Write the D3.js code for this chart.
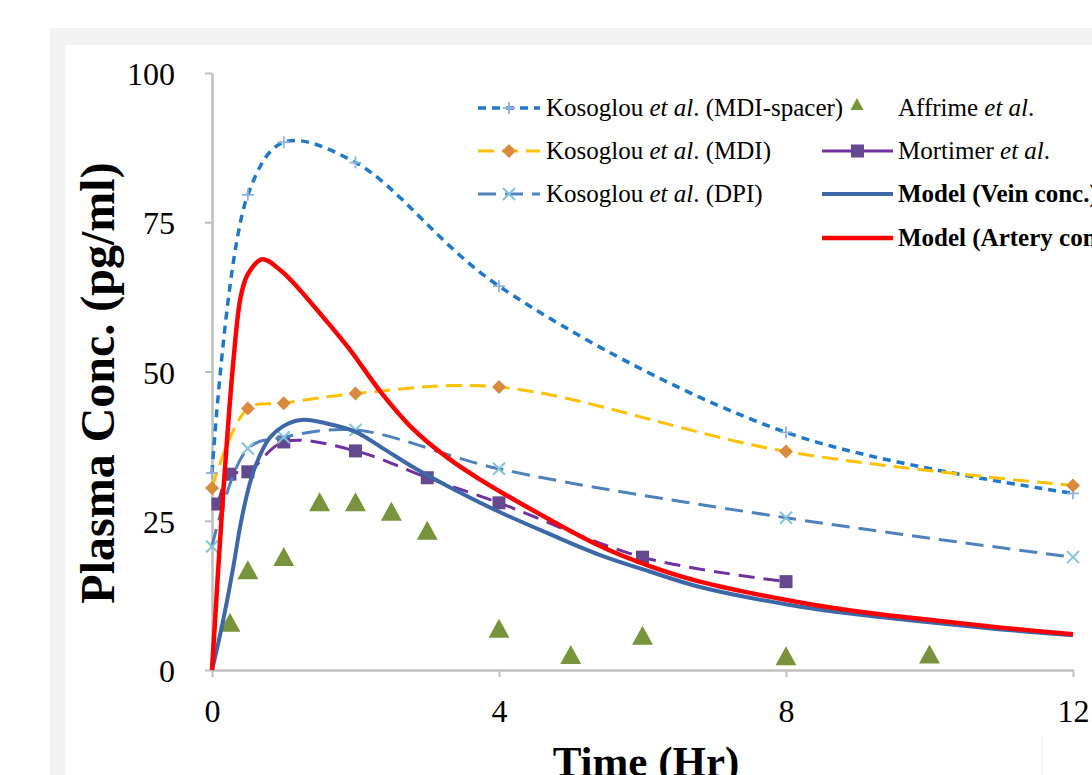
<!DOCTYPE html>
<html>
<head>
<meta charset="utf-8">
<script src="https://cdn.jsdelivr.net/npm/d3@7"></script>
<style>
  body { margin: 0; background: #ffffff; }
  svg { display: block; font-family: "Liberation Serif", "Times New Roman", serif; }
</style>
</head>
<body>
<svg></svg>
<script>
// sampling times of the Kosoglou studies (hr)
let kosoglouTimes = [0, 0.5, 1, 2, 4, 8, 12]
let spacerValues = [33, 79.6, 88.4, 85, 64.3, 39.8, 29.6]   // MDI-spacer
let mdiValues = [30.5, 43.8, 44.7, 46.3, 47.4, 36.6, 30.9]     // MDI
let dpiValues = [20.7, 37.1, 39, 40.2, 33.7, 25.5, 18.9]       // DPI

let mortimerTimes = [0.083, 0.25, 0.5, 1, 2, 3, 4, 6, 8]
let mortimerValues = [27.8, 32.8, 33.2, 38.2, 36.7, 32.2, 28, 18.9, 14.8]

let affrimeTimes = [0.25, 0.5, 1, 1.5, 2, 2.5, 3, 4, 5, 6, 8, 10]
let affrimeValues = [8, 16.8, 19, 28.2, 28.2, 26.6, 23.4, 7, 2.6, 5.8, 2.4, 2.7]

// model curves
let veinTimes = [0, 0.1, 0.2, 0.3, 0.4, 0.5, 0.6, 0.8, 1.05, 1.27, 1.6, 2, 2.4, 2.8, 3.3, 4, 4.7, 5.4, 6.1, 6.8, 8.2, 9, 10, 11, 12]
let veinValues = [0, 5.2, 11, 17.5, 24.5, 30, 34, 38.8, 41.2, 41.9, 41.3, 39.9, 37, 34, 30.7, 26.5, 22.8, 19.3, 16.5, 13.9, 10.6, 9.3, 8, 6.8, 5.8]
let arteryTimes = [0, 0.15, 0.3, 0.4, 0.5, 0.7, 0.95, 1.2, 1.45, 1.9, 2.35, 2.8, 3.3, 3.75, 4.2, 5.4, 6.1, 6.8, 8.2, 9, 10, 11, 12]
let arteryValues = [0, 28.5, 52, 62.5, 66.3, 68.8, 67, 64, 60.5, 54, 46.6, 40.4, 35.4, 31.8, 28.6, 20.8, 17.4, 14.8, 11.3, 9.8, 8.4, 7.1, 6]

let xTicks = [0, 4, 8, 12]
let yTicks = [0, 25, 50, 75, 100]

let width = 1092
let height = 775

let svg = d3.select('svg')
svg.attr('width', width).attr('height', height)

// grey frame + white panel behind the chart
svg.append('rect').attr('x', 50).attr('y', 28).attr('width', width).attr('height', height).attr('fill', '#f2f2f2')
svg.append('rect').attr('x', 65).attr('y', 45).attr('width', width).attr('height', height).attr('fill', '#ffffff')
svg.append('line').attr('x1', 1042).attr('x2', 1042).attr('y1', 737).attr('y2', height)
    .attr('stroke', '#e6e6e6').attr('stroke-width', 1)

let xScale = d3.scaleLinear().domain([0, 12]).range([212, 1073])
let yScale = d3.scaleLinear().domain([0, 100]).range([670, 73])

// axes
let yAxis = d3.axisLeft(yScale).tickValues(yTicks).tickSize(7).tickSizeOuter(0).tickPadding(30)
let yG = svg.append('g').attr('transform', 'translate(212, 0)').call(yAxis)
let xAxis = d3.axisBottom(xScale).tickValues(xTicks).tickSize(7).tickSizeOuter(0).tickPadding(22)
let xG = svg.append('g').attr('transform', 'translate(0, 670)').call(xAxis)

;[xG, yG].forEach((g) => {
    g.select('.domain').attr('stroke', '#bfbfbf').attr('stroke-width', 2.5)
    g.selectAll('.tick line').attr('stroke', '#bfbfbf').attr('stroke-width', 2)
    g.selectAll('.tick text')
        .attr('font-family', '"Liberation Serif", serif')
        .attr('font-size', 32)
        .attr('fill', '#000')
})
yG.selectAll('.tick text').attr('dy', '0.36em')

// axis titles
svg.append('text')
    .attr('transform', 'translate(114, 383) rotate(-90)')
    .attr('text-anchor', 'middle')
    .attr('font-size', 48)
    .attr('font-weight', 'bold')
    .text('Plasma Conc. (pg/ml)')

svg.append('text')
    .attr('x', 646)
    .attr('y', 776)
    .attr('text-anchor', 'middle')
    .attr('font-size', 43)
    .attr('font-weight', 'bold')
    .text('Time (Hr)')

// marker shapes
let plusPath = (r) => `M${-r},0H${r}M0,${-r}V${r}`
let xPath = (r) => `M${-r},${-r}L${r},${r}M${-r},${r}L${r},${-r}`
let diamondPath = (r) => `M0,${-r}L${r},0L0,${r}L${-r},0Z`
let squarePath = (r) => `M${-r},${-r}H${r}V${r}H${-r}Z`
let trianglePath = (r) => `M0,${-r}L${r * 1.1},${r}L${-r * 1.1},${r}Z`

let zip = (ts, vs) => ts.map((t, i) => [t, vs[i]])

let series = [
    { name: 'spacer', pts: zip(kosoglouTimes, spacerValues), line: '#1f78c8', width: 3.5, dash: '8,6',
      marker: plusPath, r: 6, fill: 'none', stroke: '#8fb3df', mw: 1.8 },
    { name: 'affrime', pts: zip(affrimeTimes, affrimeValues), line: null,
      marker: trianglePath, r: 9.5, fill: '#77933c', stroke: 'none' },
    { name: 'mdi', pts: zip(kosoglouTimes, mdiValues), line: '#ffc000', width: 3, dash: '16,8',
      marker: diamondPath, r: 7, fill: '#d98a3c', stroke: 'none' },
    { name: 'mortimer', pts: zip(mortimerTimes, mortimerValues), line: '#7030a0', width: 3, dash: '16,9',
      marker: squarePath, r: 6.5, fill: '#64498f', stroke: 'none' },
    { name: 'dpi', pts: zip(kosoglouTimes, dpiValues), line: '#4f81bd', width: 3, dash: '18,9',
      marker: xPath, r: 6, fill: 'none', stroke: '#80c4d6', mw: 2 },
]

// smoothed lines like the spreadsheet's "smoothed line" option
let smoothLine = d3.line()
    .x((d) => xScale(d[0]))
    .y((d) => yScale(d[1]))
    .curve(d3.curveCatmullRom.alpha(0.5))

series.forEach((s) => {
    if (s.line) {
        svg.append('path')
            .datum(s.pts)
            .attr('d', smoothLine)
            .attr('fill', 'none')
            .attr('stroke', s.line)
            .attr('stroke-width', s.width)
            .attr('stroke-dasharray', s.dash)
    }
    svg.append('g').selectAll('path')
        .data(s.pts)
        .enter()
        .append('path')
        .attr('transform', (d) => 'translate(' + xScale(d[0]) + ',' + yScale(d[1]) + ')')
        .attr('d', s.marker(s.r))
        .attr('fill', s.fill)
        .attr('stroke', s.stroke)
        .attr('stroke-width', s.mw || 0)
})

// model curves, artery drawn last so it sits on top
svg.append('path')
    .datum(zip(veinTimes, veinValues))
    .attr('d', smoothLine)
    .attr('fill', 'none')
    .attr('stroke', '#3c67a8')
    .attr('stroke-width', 4)

svg.append('path')
    .datum(zip(arteryTimes, arteryValues))
    .attr('d', smoothLine)
    .attr('fill', 'none')
    .attr('stroke', '#ff0000')
    .attr('stroke-width', 4.5)

// legend
let legendRows = [108, 151, 194, 238]
let legendItems = [
    { s: series[0], col: 0, row: 0, pre: 'Kosoglou ', it: 'et al', post: '. (MDI-spacer)' },
    { s: series[2], col: 0, row: 1, pre: 'Kosoglou ', it: 'et al', post: '. (MDI)' },
    { s: series[4], col: 0, row: 2, pre: 'Kosoglou ', it: 'et al', post: '. (DPI)' },
    { s: series[1], col: 1, row: 0, pre: 'Affrime ', it: 'et al', post: '.' },
    { s: series[3], col: 1, row: 1, pre: 'Mortimer ', it: 'et al', post: '.' },
    { s: { line: '#3c67a8', width: 4 }, col: 1, row: 2, bold: 'Model (Vein conc.)' },
    { s: { line: '#ff0000', width: 4.5 }, col: 1, row: 3, bold: 'Model (Artery conc.)' },
]
let legendCols = [
    { x1: 478, x2: 540, text: 546 },
    { x1: 822, x2: 893, text: 898 },
]

legendItems.forEach((item) => {
    let c = legendCols[item.col]
    let y = legendRows[item.row]
    let mid = (c.x1 + c.x2) / 2
    if (item.s.line) {
        svg.append('line')
            .attr('x1', c.x1).attr('x2', c.x2)
            .attr('y1', y).attr('y2', y)
            .attr('stroke', item.s.line)
            .attr('stroke-width', item.s.width)
            .attr('stroke-dasharray', item.s.dash ? (item.col == 0 ? item.s.dash : null) : null)
    }
    if (item.s.marker) {
        // the marker-only series sits a bit higher, just after the first legend text
        svg.append('path')
            .attr('transform', 'translate(' + (item.s.line ? mid : 857) + ',' + (item.s.line ? y : y - 4) + ')')
            .attr('d', item.s.marker(item.s.line ? item.s.r : 6))
            .attr('fill', item.s.fill)
            .attr('stroke', item.s.stroke)
            .attr('stroke-width', item.s.mw || 0)
    }
    let t = svg.append('text')
        .attr('x', c.text)
        .attr('y', y)
        .attr('dy', '0.33em')
        .attr('font-size', 25)
    if (item.bold) {
        t.attr('font-weight', 'bold').text(item.bold)
    } else {
        t.append('tspan').text(item.pre)
        t.append('tspan').attr('font-style', 'italic').text(item.it)
        t.append('tspan').text(item.post)
    }
})
</script>
</body>
</html>
